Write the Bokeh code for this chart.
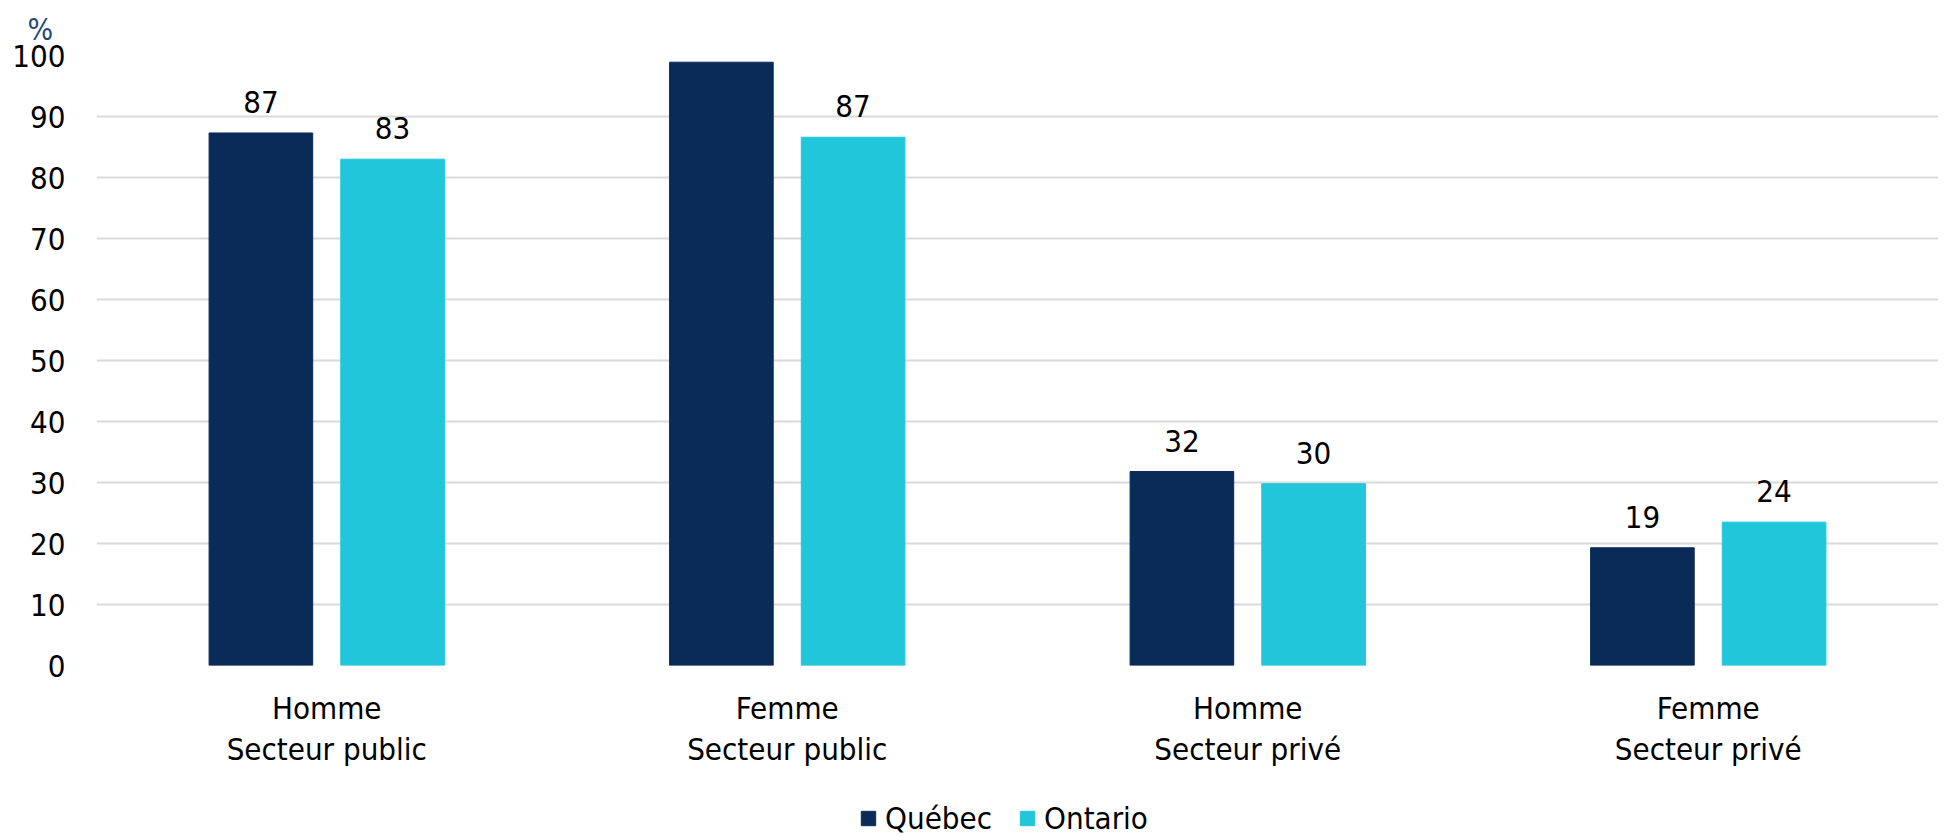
from bokeh.plotting import figure
from bokeh.layouts import column
from bokeh.models import ColumnDataSource, FactorRange, Legend, LegendItem, Title, FixedTicker, Range1d
from bokeh.transform import dodge
from bokeh.core.properties import value
from bokeh.embed import file_html
from bokeh.resources import INLINE

categories = ["Homme\nSecteur public", "Femme\nSecteur public", "Homme\nSecteur privé", "Femme\nSecteur privé"]
quebec = [87.3, 98.9, 31.8, 19.3]
ontario = [83.0, 86.6, 29.8, 23.5]
series_names = ["Québec", "Ontario"]
y_ticks = [0, 10, 20, 30, 40, 50, 60, 70, 80, 90, 100]

FONT = "'DejaVu Sans Condensed', 'DejaVu Sans', sans-serif"
FS = "31px"
C_QC = "#0a2b57"
C_ON = "#22c6da"

src = ColumnDataSource(dict(
    cat=categories,
    qc=quebec,
    on=ontario,
    qc_lbl=[str(round(v)) for v in quebec],
    on_lbl=[str(round(v)) for v in ontario],
))

p = figure(x_range=FactorRange(*categories), y_range=Range1d(0, 100),
           width=1938, height=772, output_backend="svg", toolbar_location=None,
           min_border_left=96, min_border_right=0, min_border_top=54, min_border_bottom=107)

r1 = p.vbar(x=dodge("cat", -0.143, range=p.x_range), top="qc", width=0.225, source=src,
            fill_color=C_QC, line_color=C_QC)
r2 = p.vbar(x=dodge("cat", 0.143, range=p.x_range), top="on", width=0.225, source=src,
            fill_color=C_ON, line_color=C_ON)

for xoff, col in [(-0.143, "qc"), (0.143, "on")]:
    p.text(x=dodge("cat", xoff, range=p.x_range), y=col, text=col + "_lbl", source=src,
           text_align="center", text_baseline="middle", y_offset=-31,
           text_font=value(FONT), text_font_size=FS, text_color="#000000")

p.outline_line_color = None
p.xgrid.grid_line_color = None
p.ygrid.grid_line_color = "#d9d9d9"
p.ygrid.grid_line_width = 2
p.yaxis.ticker = FixedTicker(ticks=y_ticks)

for ax in (p.xaxis[0], p.yaxis[0]):
    ax.axis_line_color = None
    ax.major_tick_line_color = None
    ax.minor_tick_line_color = None
    ax.major_tick_out = 0
    ax.major_tick_in = 0
    ax.major_label_text_font = FONT
    ax.major_label_text_font_size = FS
    ax.major_label_text_color = "#000000"

p.yaxis.major_label_standoff = 31
p.xaxis.major_label_standoff = 24
p.xaxis.major_label_text_line_height = 1.15

t = Title(text="%", text_font=FONT, text_font_size="30px", text_color="#1f497d",
          text_font_style="normal", align="left", offset=-69, standoff=18,
          vertical_align="bottom")
p.add_layout(t, "above")

# legend strip (legend swatches use the same fills as the bars)
p2 = figure(width=1938, height=64, output_backend="svg", toolbar_location=None,
            x_axis_location=None, y_axis_location=None,
            min_border_left=0, min_border_right=0, min_border_top=0, min_border_bottom=0,
            x_range=Range1d(0, 1), y_range=Range1d(0, 1))
p2.grid.visible = False
p2.outline_line_color = None
hidden = ColumnDataSource(dict(x=[-10.0], top=[-10.0]))
l1 = p2.vbar(x="x", top="top", width=0.1, source=hidden, fill_color=C_QC, line_color=C_QC)
l2 = p2.vbar(x="x", top="top", width=0.1, source=hidden, fill_color=C_ON, line_color=C_ON)
legend = Legend(items=[LegendItem(label=series_names[0], renderers=[l1]),
                       LegendItem(label=series_names[1], renderers=[l2])],
                orientation="horizontal", location=(763, 0),
                label_text_font=FONT, label_text_font_size=FS, label_text_color="#000000",
                glyph_width=18, glyph_height=18, label_height=18, label_standoff=8, spacing=26,
                padding=0, margin=0, border_line_color=None, background_fill_alpha=0)
p2.add_layout(legend, "center")

layout = column(p, p2, spacing=0)
open("out.html", "w").write(file_html(layout, INLINE))
